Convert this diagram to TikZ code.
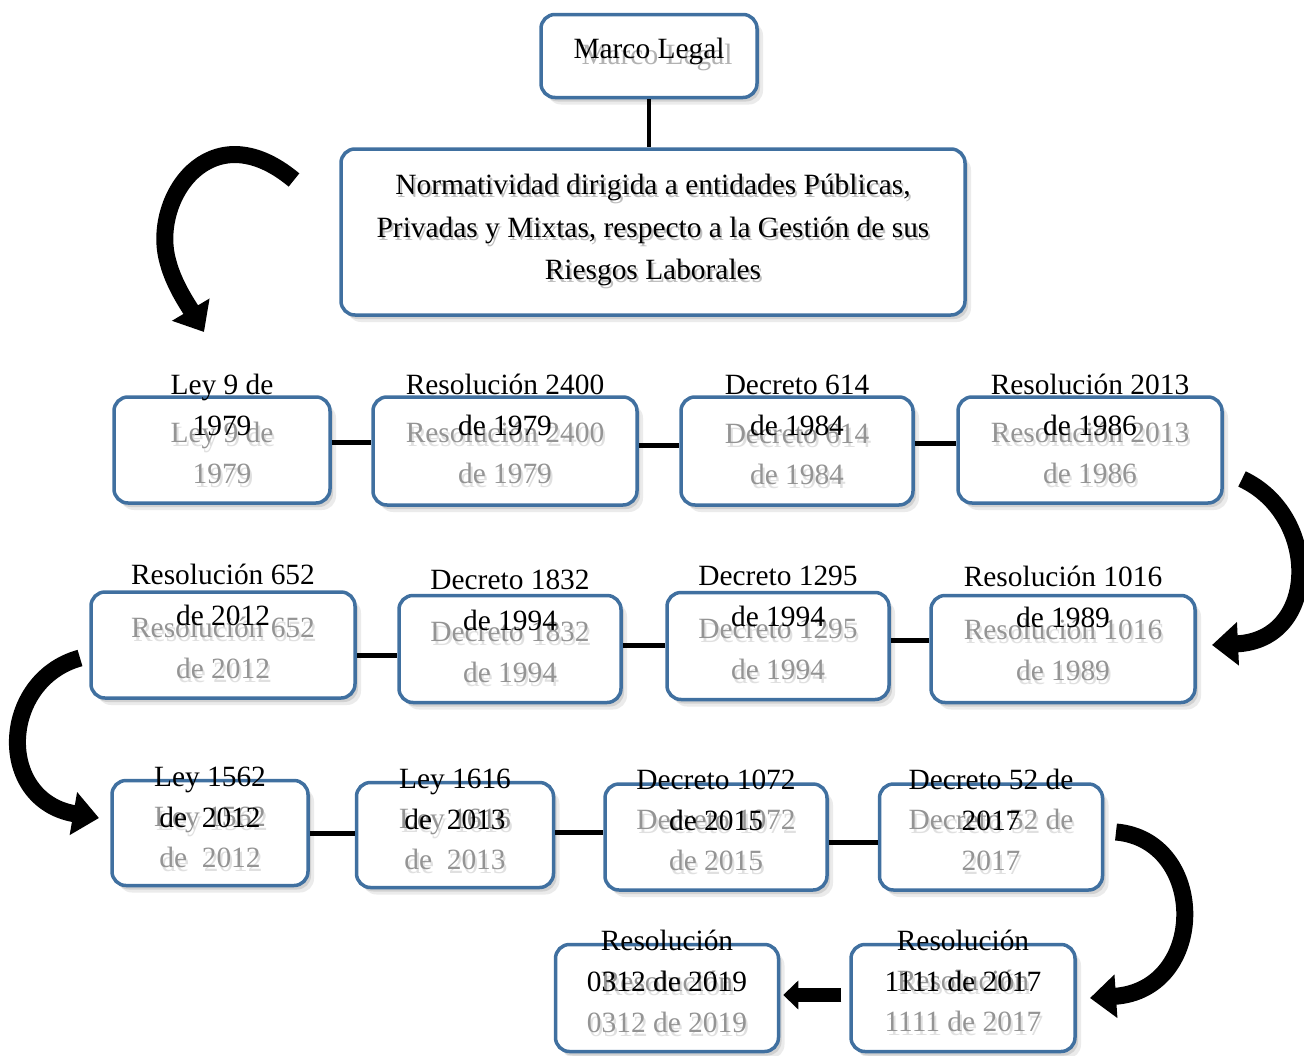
\documentclass[tikz,border=0pt]{standalone}
\usepackage{fontspec}
\setmainfont{Liberation Serif}
\usetikzlibrary{arrows.meta,shadows,calc}
\definecolor{boxblue}{RGB}{64,112,160}
\newcommand\stt{\rule[-7pt]{0pt}{28pt}}
\newcommand\lbox[8]{%
  \node[lbox, minimum width=#4pt, minimum height=#5pt] (#1) at (#2,#3) {};
  \node[fadedsh] (#1g) at ({#2+2},{#8+7}) {#6};
  \node[faded] (#1f) at (#2,{#8+3}) {#6};
  \node[sharp] (#1s) at (#2,{#7+3}) {#6};
}
\tikzset{
  lbox/.style={draw=boxblue, line width=3.5pt, rounded corners=14pt, fill=white,
    drop shadow={shadow xshift=6pt, shadow yshift=-7pt, fill=black!8, opacity=1},
    drop shadow={shadow xshift=3pt, shadow yshift=-4pt, fill=black!18, opacity=1}},
  sharp/.style={font=\fontsize{29.4}{41}\selectfont, align=center, text=black, inner sep=0pt},
  faded/.style={sharp, text=black!42},
  fadedsh/.style={sharp, text=black!12},
  bigtxt/.style={font=\fontsize{29.4}{42.5}\selectfont, align=center, inner sep=0pt},
  conn/.style={line width=5pt, black},
  curvarr/.style={line width=17pt, black, -{Triangle[length=26pt,width=42pt]}},
}
\begin{document}
\begin{tikzpicture}[x=1pt,y=-1pt]
\useasboundingbox (0,0) rectangle (1304,1055);

% Marco Legal
\node[lbox, minimum width=216pt, minimum height=83pt] (ml) at (649,56) {};
\node[sharp, text=black!30] (mlg) at (657,57) {Marco Legal};
\node[sharp] (mls) at (649,51) {Marco Legal};

% Big box
\node[lbox, minimum width=624pt, minimum height=166pt] (big) at (653,232) {};
\node[bigtxt, text=black!25] (bigg) at (655,233) {\stt Normatividad dirigida a entidades Públicas,\\\stt Privadas y Mixtas, respecto a la Gestión de sus\\\stt Riesgos Laborales};
\node[bigtxt] (bigs) at (653,230) {\stt Normatividad dirigida a entidades Públicas,\\\stt Privadas y Mixtas, respecto a la Gestión de sus\\\stt Riesgos Laborales};
\draw[line width=3.5pt] (ml.south) -- (ml.south |- big.north);

% Row 1
\lbox{b1}{222}{450}{216}{106}{\stt Ley 9 de\\\stt 1979}{405}{453}
\lbox{b2}{505}{451}{264}{108}{\stt Resolución 2400\\\stt de 1979}{405}{453}
\lbox{b3}{797}{451}{232}{108}{\stt Decreto 614\\\stt de 1984}{405}{454}
\lbox{b4}{1090}{450}{264}{106}{\stt Resolución 2013\\\stt de 1986}{405}{453}
\draw[conn] ([yshift=8pt]b1.east) -- ([yshift=8pt]b1.east -| b2.west);
\draw[conn] ([yshift=6pt]b2.east) -- ([yshift=6pt]b2.east -| b3.west);
\draw[conn] ([yshift=8pt]b3.east) -- ([yshift=8pt]b3.east -| b4.west);

% Row 2
\lbox{c1}{223}{645}{264}{106}{\stt Resolución 652\\\stt de 2012}{595}{648}
\lbox{c2}{510}{649}{222}{107}{\stt Decreto 1832\\\stt de 1994}{600}{652}
\lbox{c3}{778}{646}{222}{107}{\stt Decreto 1295\\\stt de 1994}{596}{649}
\lbox{c4}{1063}{649}{264}{107}{\stt Resolución 1016\\\stt de 1989}{597}{650}
\draw[conn] ([yshift=-10pt]c1.east) -- ([yshift=-10pt]c1.east -| c2.west);
\draw[conn] ([yshift=4pt]c2.east) -- ([yshift=4pt]c2.east -| c3.west);
\draw[conn] ([yshift=6pt]c3.east) -- ([yshift=6pt]c3.east -| c4.west);

% Row 3
\lbox{d1}{210}{833}{196}{105}{\stt Ley 1562\\\stt de\ \ 2012}{797}{837}
\lbox{d2}{455}{835}{197}{105}{\stt Ley 1616\\\stt de\ \ 2013}{799}{839}
\lbox{d3}{716}{837}{222}{106}{\stt Decreto 1072\\\stt de 2015}{800}{840}
\lbox{d4}{991}{837}{223}{106}{\stt Decreto 52 de\\\stt 2017}{800}{840}
\draw[conn] (d1.east) -- (d1.east -| d2.west);
\draw[conn] ([yshift=3pt]d2.east) -- ([yshift=3pt]d2.east -| d3.west);
\draw[conn] ([yshift=-5pt]d3.east) -- ([yshift=-5pt]d3.east -| d4.west);

% Row 4
\lbox{e1}{667}{998}{223}{107}{\stt Resolución\\\stt 0312 de 2019}{961}{1002}
\lbox{e2}{963}{998}{224}{107}{\stt Resolución\\\stt 1111 de 2017}{961}{1001}
\draw[line width=14pt, -{Triangle[length=15pt,width=28pt]}, shorten <=8pt, shorten >=3pt]
  ([yshift=3pt]e2.west) -- ([yshift=3pt]e2.west -| e1.east);

% Curved arrows
\coordinate (a1s) at (294,180);
\coordinate (a1e) at (204,332);
\draw[curvarr] (a1s) .. controls (210,110) and (150,200) .. (168,262)
  .. controls (174,285) and (188,305) .. (a1e);

\coordinate (a2s) at (1242,479);
\coordinate (a2e) at (1212,645);
\draw[curvarr] (a2s) .. controls (1320,515) and (1320,640) .. (a2e);

\coordinate (a3s) at (80,658);
\coordinate (a3e) at (99,818);
\draw[curvarr] (a3s) .. controls (0,680) and (-5,800) .. (a3e);

\coordinate (a4s) at (1116,832);
\coordinate (a4e) at (1090,998);
\draw[curvarr] (a4s) .. controls (1208,840) and (1208,990) .. (a4e);
\end{tikzpicture}
\end{document}
